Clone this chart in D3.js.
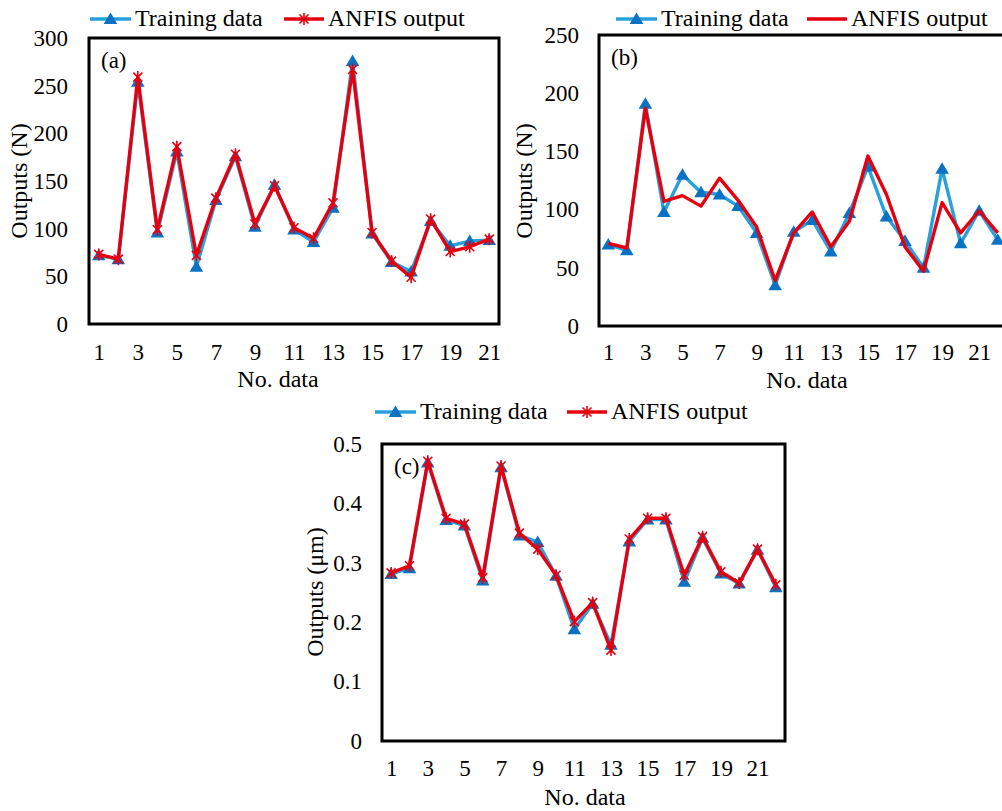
<!DOCTYPE html>
<meta charset="utf-8">
<style>
    body { margin: 0; background: #fff; }
    text { font-family: "Liberation Serif", "Times New Roman", serif; fill: #000; }
</style>
<body>
<script src="https://cdn.jsdelivr.net/npm/d3@7"></script>
<script>

    // data
    var trainA = [72, 68, 254, 96, 181, 60, 130, 176, 102, 146, 99, 86, 122, 276, 95, 65, 55, 108, 82, 87, 88];
    var anfisA = [73, 68, 259, 99, 186, 72, 132, 178, 105, 145, 101, 90, 127, 267, 96, 66, 49, 110, 76, 81, 89];

    var trainB = [70, 65, 191, 98, 130, 115, 113, 103, 80, 35, 81, 91, 64, 97, 137, 94, 73, 50, 135, 71, 99, 74];
    var anfisB = [71, 67, 187, 107, 112, 103, 127, 108, 85, 39, 80, 98, 68, 90, 146, 113, 68, 47, 106, 80, 99, 80];

    var trainC = [0.281, 0.291, 0.469, 0.372, 0.363, 0.270, 0.461, 0.346, 0.335, 0.278, 0.188, 0.231, 0.162, 0.336, 0.373, 0.373, 0.268, 0.342, 0.282, 0.265, 0.322, 0.259];
    var anfisC = [0.283, 0.295, 0.471, 0.375, 0.365, 0.275, 0.463, 0.350, 0.323, 0.279, 0.201, 0.233, 0.153, 0.340, 0.375, 0.375, 0.279, 0.344, 0.285, 0.266, 0.323, 0.263];

    var xTicks = [1, 3, 5, 7, 9, 11, 13, 15, 17, 19, 21];
    var yTicksA = [0, 50, 100, 150, 200, 250, 300];
    var yTicksB = [0, 50, 100, 150, 200, 250];
    var yTicksC = [0, 0.1, 0.2, 0.3, 0.4, 0.5];

    var seriesNames = ["Training data", "ANFIS output"];

    var blueLine = "#28a0dc",
        blueMark = "#0a72c2",
        red = "#e6000f";

    var svg = d3.select("body").append("svg")
        .attr("width", 1002)
        .attr("height", 811);

    var triPath = "M0,-6.5L6.8,5L-6.8,5Z";
    var starPath = "M-4.5,-4.5L4.5,4.5M-4.5,4.5L4.5,-4.5M0,-6L0,6";

    function panel(cfg) {
        var n = cfg.train.length;
        var idx = d3.range(1, n + 1);

        var x = d3.scalePoint()
            .domain(idx)
            .range([cfg.left, cfg.right])
            .padding(0.5);

        var y = d3.scaleLinear()
            .domain([0, d3.max(cfg.yTicks)])
            .range([cfg.bottom, cfg.top]);

        var g = svg.append("g");

        // y axis labels
        g.append("g")
            .attr("transform", "translate(" + cfg.left + ",0)")
            .call(d3.axisLeft(y).tickValues(cfg.yTicks).tickSize(0).tickPadding(cfg.yPad).tickFormat(cfg.fmt))
            .call(function(a) { a.select(".domain").remove(); })
            .selectAll("text")
            .style("font-family", "Liberation Serif")
            .style("font-size", "23px");

        // x axis labels
        g.append("g")
            .attr("transform", "translate(0," + cfg.bottom + ")")
            .call(d3.axisBottom(x).tickValues(xTicks).tickSize(0).tickPadding(cfg.xPad))
            .call(function(a) { a.select(".domain").remove(); })
            .selectAll("text")
            .style("font-family", "Liberation Serif")
            .style("font-size", "23px");

        var line = d3.line()
            .x(function(d, i) { return x(i + 1); })
            .y(function(d) { return y(d); });

        g.append("path")
            .datum(cfg.train)
            .attr("d", line)
            .attr("fill", "none")
            .attr("stroke", blueLine)
            .attr("stroke-width", 3.4)
            .attr("stroke-linejoin", "round");

        g.selectAll(".tri")
            .data(cfg.train)
            .enter().append("path")
            .attr("class", "tri")
            .attr("d", triPath)
            .attr("fill", blueMark)
            .attr("transform", function(d, i) { return "translate(" + x(i + 1) + "," + y(d) + ")"; });

        g.append("path")
            .datum(cfg.anfis)
            .attr("d", line)
            .attr("fill", "none")
            .attr("stroke", red)
            .attr("stroke-width", 3.4)
            .attr("stroke-linejoin", "round");

        if (cfg.stars) {
            g.selectAll(".star")
                .data(cfg.anfis)
                .enter().append("path")
                .attr("class", "star")
                .attr("d", starPath)
                .attr("fill", "none")
                .attr("stroke", red)
                .attr("stroke-width", 1.6)
                .attr("transform", function(d, i) { return "translate(" + x(i + 1) + "," + y(d) + ")"; });
        }

        // plot frame
        g.append("rect")
            .attr("x", cfg.left)
            .attr("y", cfg.top)
            .attr("width", cfg.right - cfg.left)
            .attr("height", cfg.bottom - cfg.top)
            .attr("fill", "none")
            .attr("stroke", "#000")
            .attr("stroke-width", 3);

        g.append("text")
            .attr("x", cfg.left + 12)
            .attr("y", cfg.top + 30)
            .style("font-size", "23px")
            .text(cfg.tag);

        g.append("text")
            .attr("x", cfg.xTitle[0])
            .attr("y", cfg.xTitle[1])
            .attr("text-anchor", "middle")
            .style("font-size", "24px")
            .text("No. data");

        g.append("text")
            .attr("transform", "translate(" + cfg.yTitle[0] + "," + cfg.yTitle[1] + ") rotate(-90)")
            .attr("text-anchor", "middle")
            .attr("dy", "0.35em")
            .style("font-size", "24px")
            .text(cfg.yLabel);

        // legend
        var lg = cfg.legend;
        g.append("line")
            .attr("x1", lg.x1).attr("x2", lg.x1 + 41)
            .attr("y1", lg.y).attr("y2", lg.y)
            .attr("stroke", blueLine).attr("stroke-width", 3.4);
        g.append("path")
            .attr("d", triPath)
            .attr("fill", blueMark)
            .attr("transform", "translate(" + (lg.x1 + 20.5) + "," + lg.y + ")");
        g.append("text")
            .attr("x", lg.x1 + 45)
            .attr("y", lg.y + 7)
            .style("font-size", "24px")
            .text(seriesNames[0]);

        g.append("line")
            .attr("x1", lg.x2).attr("x2", lg.x2 + 40)
            .attr("y1", lg.y).attr("y2", lg.y)
            .attr("stroke", red).attr("stroke-width", 3.4);
        if (cfg.stars) {
            g.append("path")
                .attr("d", starPath)
                .attr("fill", "none")
                .attr("stroke", red)
                .attr("stroke-width", 1.6)
                .attr("transform", "translate(" + (lg.x2 + 20) + "," + lg.y + ")");
        }
        g.append("text")
            .attr("x", lg.x2 + 44)
            .attr("y", lg.y + 7)
            .style("font-size", "24px")
            .text(seriesNames[1]);
    }

    panel({
        train: trainA, anfis: anfisA, yTicks: yTicksA, fmt: d3.format("d"),
        left: 89, right: 499, top: 38, bottom: 324,
        yPad: 21, xPad: 20, stars: true, tag: "(a)", yLabel: "Outputs (N)",
        xTitle: [278, 387], yTitle: [19, 181],
        legend: { x1: 90, x2: 284, y: 19 }
    });

    panel({
        train: trainB, anfis: anfisB, yTicks: yTicksB, fmt: d3.format("d"),
        left: 599, right: 1007, top: 35, bottom: 326,
        yPad: 20, xPad: 18, stars: false, tag: "(b)", yLabel: "Outputs (N)",
        xTitle: [807, 388], yTitle: [524, 181],
        legend: { x1: 616, x2: 807, y: 19 }
    });

    panel({
        train: trainC, anfis: anfisC, yTicks: yTicksC, fmt: function(d) { return d === 0 ? "0" : d3.format(".1f")(d); },
        left: 382, right: 785, top: 444, bottom: 741,
        yPad: 20, xPad: 19, stars: true, tag: "(c)", yLabel: "Outputs (μm)",
        xTitle: [585, 805], yTitle: [315, 592],
        legend: { x1: 375, x2: 567, y: 412 }
    });

</script>
